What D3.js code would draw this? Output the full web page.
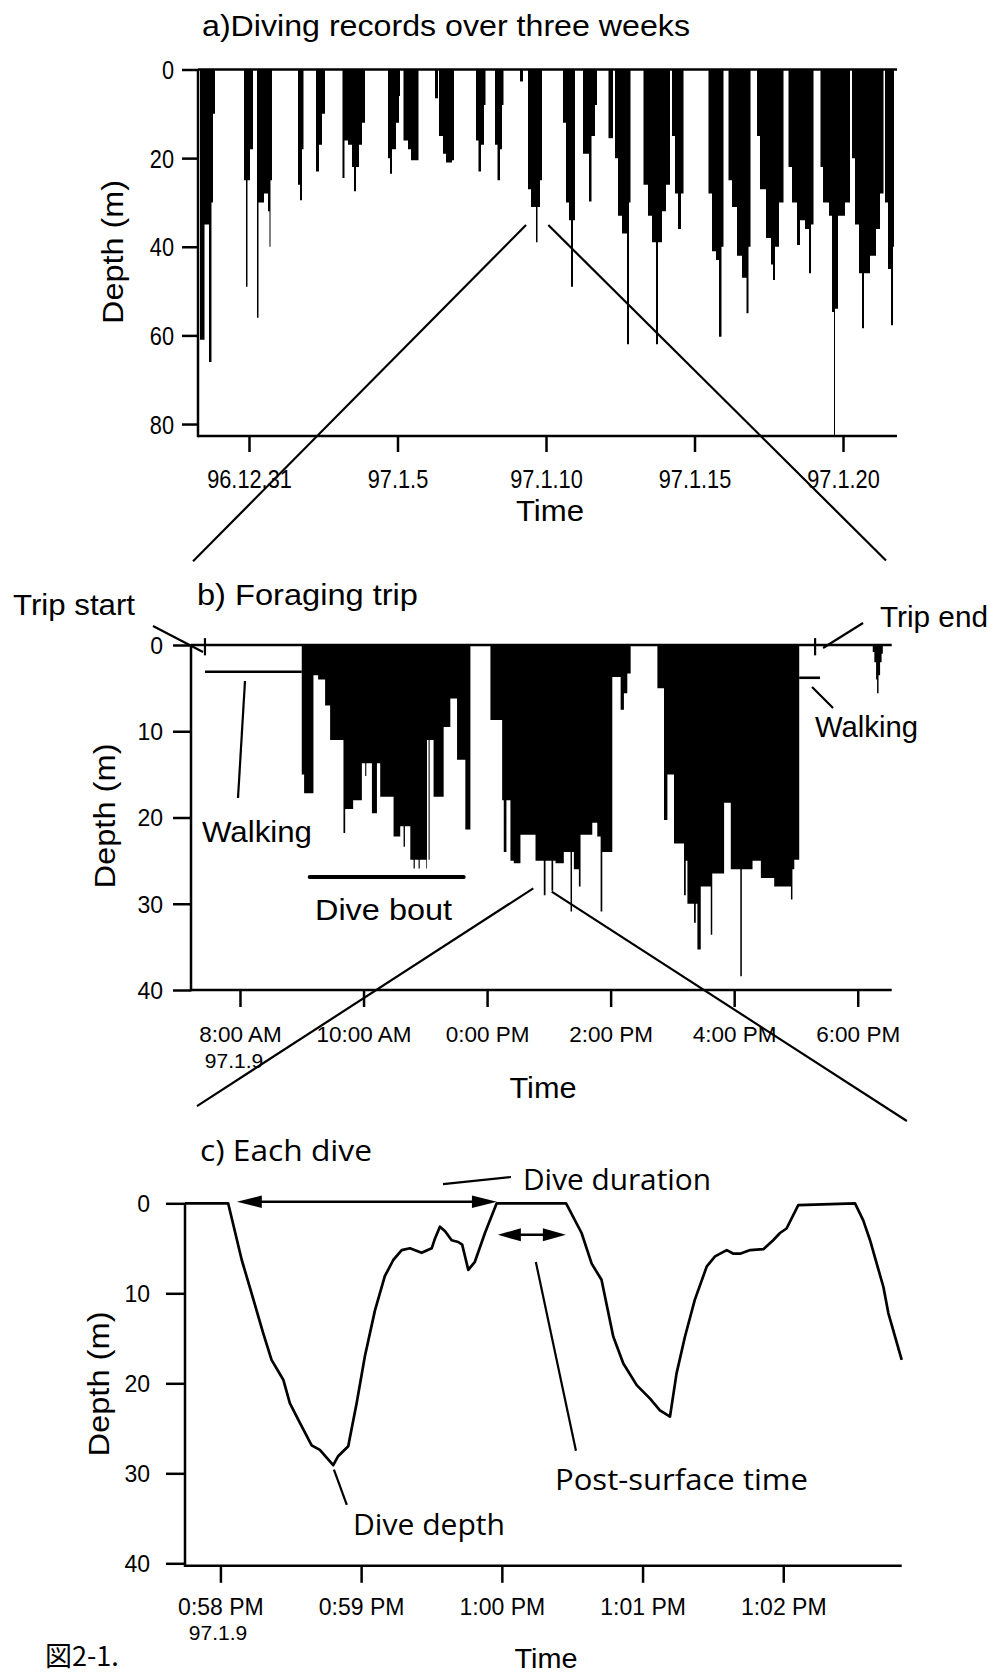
<!DOCTYPE html>
<html lang="en">
<head>
<meta charset="utf-8">
<title>Diving records</title>
<script src="https://cdn.jsdelivr.net/npm/d3@7/dist/d3.min.js"></script>
<style>
  html, body { margin: 0; padding: 0; background: #fff; }
  svg { display: block; }
  text { fill: #000; }
  .helv { font-family: "Liberation Sans", Arial, Helvetica, sans-serif; }
  .human { font-family: "Open Sans", "Noto Sans", sans-serif; }
  .cjk { font-family: "Noto Sans CJK JP", "Noto Sans CJK SC", sans-serif; }
</style>
</head>
<body>
<svg id="fig" width="993" height="1676" viewBox="0 0 993 1676"></svg>
<script>
// ---------------- data ----------------
// a) maximum-depth envelope of each foraging trip: [days after 96.12.31 0:00, depth (m)]
const tripsA = [
  [[-1.650,61],[-1.498,35],[-1.347,66],[-1.263,30],[-1.212,10],[-1.145,0]],
  [[-0.168,25],[-0.101,49],[-0.051,25],[0.034,18],[0.135,0]],
  [[0.269,56],[0.320,30],[0.505,28],[0.640,32],[0.690,40],[0.724,25],[0.774,0]],
  [[1.650,26],[1.717,29.5],[1.785,18],[1.835,0]],
  [[2.256,23],[2.357,17],[2.458,10],[2.559,0]],
  [[3.148,24.5],[3.215,16],[3.333,17],[3.468,22],[3.535,27.5],[3.603,22],[3.704,17],[3.805,12],[3.906,0]],
  [[4.680,20],[4.747,23.5],[4.815,18],[4.949,12],[5.051,6],[5.084,0]],
  [[5.202,16],[5.354,18],[5.455,20.5],[5.623,20.5],[5.707,0]],
  [[6.263,6.5],[6.364,0]],
  [[6.397,15],[6.532,19],[6.633,21],[6.835,20.5],[6.902,0]],
  [[7.643,16],[7.727,23],[7.811,17],[7.912,8],[7.963,0]],
  [[8.283,17],[8.367,25],[8.451,18],[8.519,8],[8.569,0]],
  [[9.125,2.7],[9.226,0]],
  [[9.394,27],[9.495,31],[9.663,39],[9.714,31],[9.798,25],[9.865,0]],
  [[10.572,12],[10.673,30],[10.774,34],[10.842,49],[10.909,34],[10.976,0]],
  [[11.246,19],[11.448,29.8],[11.532,15],[11.650,8],[11.717,0]],
  [[12.104,15.5],[12.256,0]],
  [[12.323,20],[12.424,33],[12.559,37],[12.727,62],[12.795,30],[12.845,0]],
  [[13.283,26],[13.434,33],[13.569,39],[13.704,62],[13.771,39],[13.906,32],[14.040,26],[14.175,0]],
  [[14.242,15],[14.343,28],[14.444,36],[14.545,28],[14.630,0]],
  [[15.471,28],[15.589,41],[15.724,43],[15.825,60.3],[15.909,40],[15.976,0]],
  [[16.145,25],[16.263,31],[16.431,42],[16.599,47],[16.751,55],[16.818,40],[16.886,0]],
  [[17.104,15],[17.205,27],[17.407,38],[17.576,44],[17.643,47.5],[17.710,40],[17.845,30],[17.997,0]],
  [[18.165,22],[18.283,30],[18.451,39.6],[18.552,34],[18.721,36],[18.855,46],[18.923,35],[19.007,0]],
  [[19.242,22],[19.327,30],[19.529,33],[19.630,54.7],[19.697,82.7],[19.731,54],[19.832,33],[20.067,30],[20.236,0]],
  [[20.303,20],[20.404,35],[20.539,46],[20.640,58.4],[20.707,46],[20.909,42],[21.111,36],[21.246,28],[21.364,0]],
  [[21.414,30],[21.515,45],[21.616,57.7],[21.684,40],[21.717,0]]
];
const dayTicksA = [0, 5, 10, 15, 20];
const depthTicksA = [0, 20, 40, 60, 80];

// b) the 97.1.9 trip, dive bouts: [hour of day, depth (m)]
const boutsB = [
  [[9.000,15],[9.038,17.2],[9.189,3.5],[9.265,4],[9.378,7],[9.459,11],[9.675,21.8],[9.703,19],[9.832,18],
   [9.973,13.7],[10.027,15.2],[10.045,13.7],[10.136,19.5],[10.217,13.7],[10.270,17.6],[10.486,22.2],[10.594,21],
   [10.648,23.4],[10.670,21],[10.757,24.9],[10.810,25.9],[10.830,24.9],[10.891,25.9],[10.910,24.9],[11.016,25.9],
   [11.027,11],[11.053,24.9],[11.070,11],[11.134,17.6],[11.297,9.5],[11.405,6.2],[11.514,13.3],[11.648,21.4],[11.730,0]],
  [[12.054,8.7],[12.244,18],[12.270,24],[12.313,18],[12.378,25],[12.432,25.3],[12.540,22],[12.702,22],[12.784,25],
   [12.918,29],[12.946,25],[13.043,28.5],[13.070,25],[13.108,25.3],[13.242,24],[13.351,30.9],[13.375,24],[13.405,26],
   [13.486,28],[13.513,22],[13.703,20.6],[13.784,22.2],[13.838,30.9],[13.865,24],[14.027,3.7],[14.162,7.5],
   [14.215,5.6],[14.270,3.3],[14.324,0]],
  [[14.757,5],[14.864,20.3],[14.919,15],[15.026,23],[15.188,29],[15.216,25],[15.243,30],[15.350,32.2],[15.378,30],
   [15.405,35.3],[15.459,28],[15.621,33.6],[15.645,26.5],[15.837,18.3],[15.945,26],[16.099,38.4],[16.124,26],
   [16.297,25],[16.432,27],[16.648,28],[16.919,29.5],[16.943,26],[16.973,24.9],[17.053,0]],
  [[18.243,0.8],[18.269,2],[18.297,4],[18.313,5.6],[18.337,3.5],[18.362,2],[18.386,1],[18.406,0]]
];
const walkB = [[7.433, 9.000, 3.1], [17.053, 17.39, 3.8]];   // [from h, to h, depth]
const tripMarksB = [7.433, 17.31];                            // trip start / trip end
const diveBoutB = [9.13, 11.62, 26.9];                        // [from h, to h, drawn at depth]
const hourTicksB = [8, 10, 12, 14, 16, 18];
const depthTicksB = [0, 10, 20, 30, 40];

// c) depth profile of single dives: [seconds after 0:58:00 PM, depth (m)]
const profileC = [
  [-15.1,0],[3.3,0],[9.1,6.3],[13.3,10],[18.2,14.4],[21.8,17.4],[26.8,19.6],[29.6,22.2],[33.9,24.4],[38.9,26.9],
  [42.4,27.4],[48.1,29.1],[50.2,28.1],[54.5,27],[58.1,22.2],[61.6,17],[65.9,11.9],[70.1,8.1],[73.7,6.3],[77.3,5.2],
  [80.8,5.0],[85.8,5.5],[90.1,5.0],[91.5,3.9],[93.6,2.6],[95.8,3.1],[98.6,4.1],[101.4,4.3],[103.1,4.6],[105.7,7.4],
  [108.5,6.5],[112.8,3.3],[117.8,0],[147.4,0],[154.0,3.3],[158.3,6.7],[162.5,8.5],[167.5,14.8],[171.8,17.8],
  [177.5,20.2],[183.2,21.7],[187.4,23],[191.7,23.7],[194.5,18.9],[198.1,14.8],[202.3,10.7],[207.4,7.0],[210.9,5.9],
  [215.9,5.2],[218.8,5.6],[221.6,5.6],[225.9,5.2],[231.5,5.1],[235.7,4.1],[238.6,3.3],[241.4,2.8],[246.4,0.2],
  [270.6,0],[274.1,1.9],[277.0,4.1],[282.7,9.3],[284.8,12.2],[290.5,17.4]
];
const diveDurationC = [7.0, 117.9];      // seconds
const postSurfaceC = [118.3, 147.3];     // seconds
const minuteTicksC = [0, 60, 120, 180, 240];
const depthTicksC = [0, 10, 20, 30, 40];

// ---------------- helpers ----------------
const ink = "#000";
const svg = d3.select("#fig");

const dayBase = new Date(1996, 11, 31);
const asDay = d => new Date(dayBase.getTime() + d * 864e5);
const tripDay = new Date(1997, 0, 9);
const asHour = h => new Date(tripDay.getTime() + h * 36e5);
const diveBase = new Date(1997, 0, 9, 12, 58, 0);
const asSec = s => new Date(diveBase.getTime() + s * 1e3);

const ymd = d => `${d.getFullYear() % 100}.${d.getMonth() + 1}.${d.getDate()}`;
const clock = d => {
  const h = d.getHours();
  return `${h % 12}:${String(d.getMinutes()).padStart(2, "0")} ${h < 12 ? "AM" : "PM"}`;
};

function styleAxis(g, size) {
  g.attr("font-family", null).attr("font-size", null);
  g.select(".domain").remove();
  g.selectAll(".tick line").attr("stroke", ink).attr("stroke-width", 2.5);
  g.selectAll(".tick text").attr("class", "helv").attr("font-size", size).attr("fill", ink);
}
function squeeze(sel, k) {
  sel.each(function () {
    const L = this.getComputedTextLength();
    d3.select(this).attr("textLength", L * k).attr("lengthAdjust", "spacingAndGlyphs");
  });
}
function label(g, txt, x, y, o) {
  const t = g.append("text").attr("x", x).attr("y", y).text(txt)
    .attr("class", o.cls || "helv").attr("font-size", o.size || 30);
  if (o.anchor) t.attr("text-anchor", o.anchor);
  if (o.rotate) t.attr("transform", `rotate(-90,${x},${y})`);
  if (o.len) t.attr("textLength", o.len).attr("lengthAdjust", "spacingAndGlyphs");
  return t;
}
function seg(g, x1, y1, x2, y2, w) {
  return g.append("line").attr("x1", x1).attr("y1", y1).attr("x2", x2).attr("y2", y2)
    .attr("stroke", ink).attr("stroke-width", w || 2.2);
}
function head(g, tipX, y, dir, len, half) {
  // filled arrowhead pointing left (dir=-1) or right (dir=1)
  const bx = tipX - dir * len;
  g.append("path").attr("d", `M${tipX},${y}L${bx},${y - half}L${bx},${y + half}Z`).attr("fill", ink);
}

// ---------------- a) three weeks ----------------
const xA = d3.scaleTime().domain([asDay(-1.717), asDay(21.818)]).range([198, 897]);
const yA = d3.scaleLinear().domain([0, 82.7]).range([69.5, 436]);
const gA = svg.append("g");
const areaA = d3.area().x(d => xA(asDay(d[0]))).y0(yA(0)).y1(d => yA(d[1])).curve(d3.curveStepAfter);
gA.selectAll("path.trip").data(tripsA).join("path").attr("class", "trip").attr("d", areaA).attr("fill", ink);
seg(gA, xA.range()[0], yA(0), xA.range()[1], yA(0), 2.5);
seg(gA, xA.range()[0], yA(0), xA.range()[0], yA.range()[1] + 1.2, 2.5);
seg(gA, xA.range()[0], yA.range()[1], xA.range()[1], yA.range()[1], 2.5);

gA.append("g").attr("transform", `translate(0,${yA.range()[1]})`)
  .call(d3.axisBottom(xA).tickValues(dayTicksA.map(asDay)).tickFormat(ymd).tickSize(16).tickSizeOuter(0))
  .call(g => styleAxis(g, 25))
  .call(g => g.selectAll(".tick text").attr("y", 52).attr("dy", 0).call(s => squeeze(s, 0.87)));
gA.append("g").attr("transform", `translate(${xA.range()[0]},0)`)
  .call(d3.axisLeft(yA).tickValues(depthTicksA).tickSize(16).tickSizeOuter(0))
  .call(g => styleAxis(g, 25))
  .call(g => g.selectAll(".tick text").attr("x", -24).attr("dy", "0.36em").call(s => squeeze(s, 0.87)));

label(gA, "a)Diving records over three weeks", 202, 36, { size: 30, len: 488 });
label(gA, "Time", 550, 521, { size: 30, anchor: "middle", len: 68 });
label(gA, "Depth (m)", 123, 252, { size: 30, anchor: "middle", rotate: true, len: 144 });

// ---------------- b) foraging trip ----------------
const xB = d3.scaleTime().domain([asHour(7.207), asHour(18.55)]).range([191, 891.7]);
const yB = d3.scaleLinear().domain([0, 40]).range([645, 990]);
const gB = svg.append("g");
const areaB = d3.area().x(d => xB(asHour(d[0]))).y0(yB(0)).y1(d => yB(d[1])).curve(d3.curveStepAfter);
gB.selectAll("path.bout").data(boutsB).join("path").attr("class", "bout").attr("d", areaB).attr("fill", ink);
seg(gB, xB.range()[0], yB(0), xB.range()[1], yB(0), 2.5);
seg(gB, xB.range()[0], yB(0), xB.range()[0], yB(40) + 1.2, 2.5);
seg(gB, xB.range()[0], yB(40), xB.range()[1], yB(40), 2.5);
walkB.forEach(w => seg(gB, xB(asHour(w[0])), yB(w[2]), xB(asHour(w[1])), yB(w[2]), 2.6));
tripMarksB.forEach(h => seg(gB, xB(asHour(h)), yB(-0.8), xB(asHour(h)), yB(1.2), 2.2));
seg(gB, xB(asHour(diveBoutB[0])), yB(diveBoutB[2]), xB(asHour(diveBoutB[1])), yB(diveBoutB[2]), 4.2)
  .attr("stroke-linecap", "round");

gB.append("g").attr("transform", `translate(0,${yB(40)})`)
  .call(d3.axisBottom(xB).tickValues(hourTicksB.map(asHour)).tickFormat(clock).tickSize(17).tickSizeOuter(0))
  .call(g => styleAxis(g, 22.5))
  .call(g => g.selectAll(".tick text").attr("y", 52).attr("dy", 0));
gB.append("g").attr("transform", `translate(${xB.range()[0]},0)`)
  .call(d3.axisLeft(yB).tickValues(depthTicksB).tickSize(18).tickSizeOuter(0))
  .call(g => styleAxis(g, 23))
  .call(g => g.selectAll(".tick text").attr("x", -28).attr("dy", "0.36em"));

// pointers
seg(gB, xB(asHour(6.592)), yB(-2.2), xB(asHour(7.401)), yB(0.81));
seg(gB, xB(asHour(8.081)), yB(4.17), xB(asHour(7.968)), yB(17.74));
seg(gB, xB(asHour(17.26)), yB(4.87), xB(asHour(17.60)), yB(7.30));
seg(gB, xB(asHour(18.086)), yB(-2.55), xB(asHour(17.439)), yB(0.35));

label(gB, "b) Foraging trip", 197, 605, { size: 29, len: 221 });
label(gB, "Trip start", 13, 615, { size: 30, len: 122 });
label(gB, "Trip end", 880, 627, { size: 30, len: 108 });
label(gB, "Walking", 202, 842, { size: 30, len: 110 });
label(gB, "Walking", 815, 737, { size: 30, len: 103 });
label(gB, "Dive bout", 315, 920, { size: 29, len: 137 });
label(gB, "97.1.9", 234, 1068, { size: 21, anchor: "middle" });
label(gB, "Time", 543, 1098, { size: 30, anchor: "middle", len: 67 });
label(gB, "Depth (m)", 115, 816, { size: 30, anchor: "middle", rotate: true, len: 145 });

// ---------------- c) each dive ----------------
const xC = d3.scaleTime().domain([asSec(-15.1), asSec(290.5)]).range([185, 901.7]);
const yC = d3.scaleLinear().domain([0, 40]).range([1203.3, 1563.3]);
const gC = svg.append("g");
const lineC = d3.line().x(d => xC(asSec(d[0]))).y(d => yC(d[1]));
gC.append("path").datum(profileC).attr("d", lineC).attr("fill", "none")
  .attr("stroke", ink).attr("stroke-width", 2.7).attr("stroke-linejoin", "round");
const baseC = yC(40) + 2.5;
seg(gC, xC.range()[0], yC(0), xC.range()[0], baseC + 1.2, 2.5);
seg(gC, xC.range()[0], baseC, xC.range()[1], baseC, 2.5);

gC.append("g").attr("transform", `translate(0,${baseC})`)
  .call(d3.axisBottom(xC).tickValues(minuteTicksC.map(asSec)).tickFormat(clock).tickSize(17).tickSizeOuter(0))
  .call(g => styleAxis(g, 23))
  .call(g => g.selectAll(".tick text").attr("y", 49).attr("dy", 0));
gC.append("g").attr("transform", `translate(${xC.range()[0]},0)`)
  .call(d3.axisLeft(yC).tickValues(depthTicksC).tickSize(19).tickSizeOuter(0))
  .call(g => styleAxis(g, 23))
  .call(g => g.selectAll(".tick text").attr("x", -35).attr("dy", "0.36em"));

// dive duration and post-surface arrows
{
  const yd = yC(-0.18), x1 = xC(asSec(diveDurationC[0])), x2 = xC(asSec(diveDurationC[1]));
  seg(gC, x1 + 10, yd, x2 - 10, yd, 2.6);
  head(gC, x1, yd, -1, 25, 6.2);
  head(gC, x2, yd, 1, 25, 6.2);
  const yp = yC(3.5), p1 = xC(asSec(postSurfaceC[0])), p2 = xC(asSec(postSurfaceC[1]));
  seg(gC, p1 + 10, yp, p2 - 10, yp, 2.6);
  head(gC, p1, yp, -1, 23, 6.5);
  head(gC, p2, yp, 1, 23, 6.5);
}
seg(gC, xC(asSec(94.9)), yC(-2.14), xC(asSec(123.9)), yC(-2.92));
seg(gC, xC(asSec(134.5)), yC(6.52), xC(asSec(151.6)), yC(27.5));
seg(gC, xC(asSec(48.4)), yC(29.6), xC(asSec(53.9)), yC(33.5));

label(gC, "c) Each dive", 200, 1161, { cls: "human", size: 30, len: 172 });
label(gC, "Dive duration", 523, 1190, { cls: "human", size: 30, len: 188 });
label(gC, "Post-surface time", 555, 1490, { cls: "human", size: 30, len: 253 });
label(gC, "Dive depth", 353, 1535, { cls: "human", size: 30, len: 152 });
label(gC, "97.1.9", 218, 1640, { size: 21, anchor: "middle" });
label(gC, "Time", 546, 1668, { size: 28, anchor: "middle", len: 63 });
label(gC, "Depth (m)", 109, 1384, { size: 30, anchor: "middle", rotate: true, len: 145 });
label(gC, "図2-1.", 45, 1666, { cls: "cjk", size: 27 });

// ---------------- zoom connectors between panels ----------------
const gZ = svg.append("g");
seg(gZ, xA(asDay(9.327)), yA(35.1), xB(asHour(7.24)), yB(-9.7), 2.2);
seg(gZ, xA(asDay(10.077)), yA(35.1), xB(asHour(18.458)), yB(-9.8), 2.2);
seg(gZ, xB(asHour(12.748)), yB(28.21), xC(asSec(-10.0)), yC(-10.8), 2.2);
seg(gZ, xB(asHour(13.046)), yB(28.6), xC(asSec(292.7)), yC(-9.14), 2.2);
</script>
</body>
</html>
